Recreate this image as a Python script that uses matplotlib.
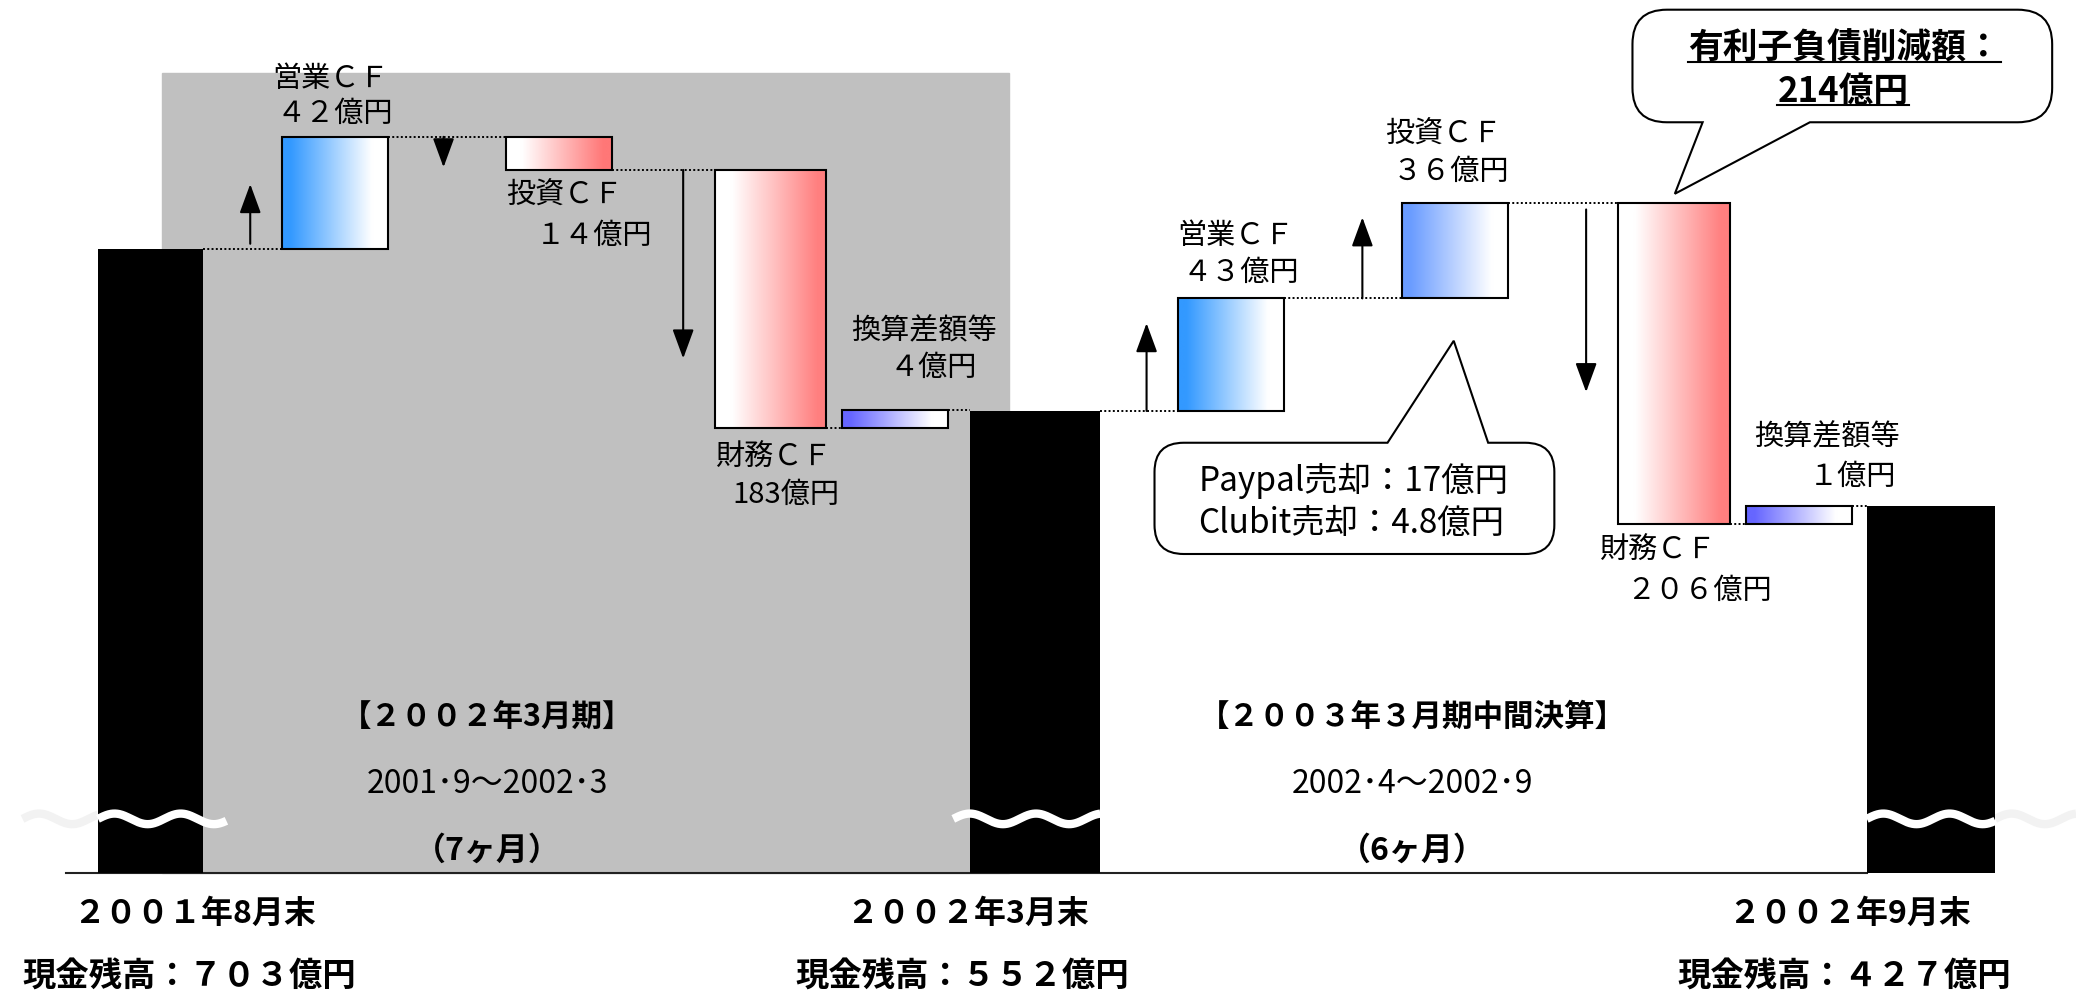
import numpy as np
import matplotlib
matplotlib.use("Agg")
import matplotlib.pyplot as plt
from matplotlib.patches import Rectangle, PathPatch
from matplotlib.path import Path
from matplotlib.colors import LinearSegmentedColormap

plt.rcParams['font.family'] = ['Noto Sans CJK JP', 'DejaVu Sans']

# ---- data (億円) ----
cash_dates = ['２００１年8月末', '２００２年3月末', '２００２年9月末']
cash_values = [703, 552, 427]
flow_names = ['営業ＣＦ', '投資ＣＦ', '財務ＣＦ', '換算差額等',
              '営業ＣＦ', '投資ＣＦ', '財務ＣＦ', '換算差額等']
flow_values = [42, -14, -183, 4, 43, 36, -206, 1]
flow_texts = ['４２億円', '１４億円', '183億円', '４億円',
              '４３億円', '３６億円', '２０６億円', '１億円']
# the chart is schematic (broken axis): drawn heights
drawn_cash = [471, 349, 277]
drawn_flow = [85, -25, -195, 14, 85, 72, -242, 13]
period_titles = ['【２００２年3月期】', '【２００３年３月期中間決算】']
period_ranges = ['2001･9～2002･3', '2002･4～2002･9']
period_months = ['（7ヶ月）', '（6ヶ月）']
callout_sales = ['Paypal売却：17億円', 'Clubit売却：4.8億円']
debt_cut_title = '有利子負債削減額：'
debt_cut_value = '214億円'

# ---- layout ----
cash_left = [74, 733, 1410]
cash_width = [79, 98, 97]
flow_left = [213, 382, 540, 636, 890, 1059, 1222, 1319]
flow_width = [80, 80, 84, 80, 80, 80, 85, 80]
flow_color = ['#3399ff', '#ff7777', '#ff7f7f', '#6666ff',
              '#3399ff', '#6a9cff', '#ff7f7f', '#6666ff']
arrow_x = [189, 335, 516, 866, 1029, 1198]
arrow_frac = [(0.05, 0.58), (0.0, 0.92), (0.0, 0.73), (0.0, 0.78), (0.0, 0.85), (0.02, 0.59)]
name_pos = [(206, 600), (382, 512), (540, 314), (643, 410),
            (889, 482), (1046, 558), (1208, 244), (1325, 330)]
value_pos = [(209, 574), (405, 482), (553, 286), (672, 382),
             (893, 454), (1052, 530), (1228, 214), (1366, 300)]
label_size = 21


def grad_bar(ax, x, y, w, h, color, positive):
    if positive:
        cmap = LinearSegmentedColormap.from_list('g', [(0, color), (0.08, color), (0.85, 'white'), (1, 'white')])
    else:
        cmap = LinearSegmentedColormap.from_list('g', [(0, 'white'), (0.15, 'white'), (0.92, color), (1, color)])
    g = np.linspace(0, 1, 256)[None, :]
    ax.imshow(g, cmap=cmap, extent=(x, x + w, y, y + h), aspect='auto',
              interpolation='bicubic', zorder=2)
    ax.add_patch(Rectangle((x, y), w, h, fill=False, ec='black', lw=1.5, zorder=3))


def callout(ax, x0, y0, x1, y1, r, tip, base, side):
    verts, codes = [], []

    def ln(p):
        verts.append(p)
        codes.append(Path.LINETO)

    def cv(c, p):
        verts.extend([c, p])
        codes.extend([Path.CURVE3, Path.CURVE3])

    verts.append((x0 + r, y1))
    codes.append(Path.MOVETO)
    if side == 'top':
        ln((base[0], y1)); ln(tip); ln((base[1], y1))
    ln((x1 - r, y1)); cv((x1, y1), (x1, y1 - r))
    ln((x1, y0 + r)); cv((x1, y0), (x1 - r, y0))
    if side == 'bottom':
        ln((base[1], y0)); ln(tip); ln((base[0], y0))
    ln((x0 + r, y0)); cv((x0, y0), (x0, y0 + r))
    ln((x0, y1 - r)); cv((x0, y1), (x0 + r, y1))
    verts.append((x0 + r, y1))
    codes.append(Path.CLOSEPOLY)
    ax.add_patch(PathPatch(Path(verts, codes), fc='white', ec='black', lw=1.5, zorder=6))


def wave(ax, xa, xb, y, color='white', z=5):
    xs = np.linspace(xa, xb, 300)
    ax.plot(xs, y + 4 * np.sin((xs - xa) / 50 * 2 * np.pi), color=color, lw=6,
            zorder=z, solid_capstyle='butt')


fig = plt.figure(figsize=(20.76, 9.959), dpi=100)
ax = fig.add_axes([0, 0, 1, 1])

# shaded first period
ax.add_patch(Rectangle((122, 0), 640, 604, color='#c0c0c0', zorder=0))
ax.plot([50, 1410], [0, 0], color='#222222', lw=1.5, zorder=1)

# cash balance bars
for i in range(3):
    ax.bar(cash_left[i], drawn_cash[i], width=cash_width[i], align='edge',
           color='black', zorder=4)

# flow bars (waterfall)
seq = []  # (left, right, end level)
seq.append((cash_left[0], cash_left[0] + cash_width[0], drawn_cash[0]))
level = drawn_cash[0]
arrows = []
for i, d in enumerate(drawn_flow):
    if i == 4:
        level = drawn_cash[1]
        seq.append((cash_left[1], cash_left[1] + cash_width[1], drawn_cash[1]))
    bottom = level if d > 0 else level + d
    grad_bar(ax, flow_left[i], bottom, flow_width[i], abs(d), flow_color[i], flow_values[i] > 0)
    arrows.append((level, d))
    level += d
    seq.append((flow_left[i], flow_left[i] + flow_width[i], level))
seq.append((cash_left[2], cash_left[2] + cash_width[2], drawn_cash[2]))

# dotted connectors
for a, b in zip(seq[:-1], seq[1:]):
    ax.plot([a[1], b[0]], [a[2], a[2]], color='black', lw=1.4, ls=(0, (1, 1.2)), zorder=1)

# arrows (main steps, FX steps have none)
arrow_steps = [arrows[k] for k in (0, 1, 2, 4, 5, 6)]
for xa, (lv, d), (f0, f1) in zip(arrow_x, arrow_steps, arrow_frac):
    ax.annotate('', xy=(xa, lv + f1 * d), xytext=(xa, lv + f0 * d),
                arrowprops=dict(arrowstyle='-|>,head_length=0.6,head_width=0.22',
                                mutation_scale=30, color='black', lw=1.5,
                                shrinkA=0, shrinkB=0), zorder=4)

# labels
for i in range(8):
    ax.text(name_pos[i][0], name_pos[i][1], flow_names[i], fontsize=label_size,
            ha='left', va='center', zorder=7)
    ax.text(value_pos[i][0], value_pos[i][1], flow_texts[i], fontsize=label_size,
            ha='left', va='center', zorder=7)

# axis break waves
wave(ax, 17, 74, 41, color='#f2f2f2', z=1)
wave(ax, 74, 171, 41)
wave(ax, 720, 831, 41)
wave(ax, 1410, 1507, 41)
wave(ax, 1507, 1568, 41, color='#f2f2f2', z=1)

# period texts
for cx, t, r, m in zip([368, 1067], period_titles, period_ranges, period_months):
    ax.text(cx, 119, t, fontsize=22, fontweight='bold', ha='center', va='center')
    ax.text(cx, 68, r, fontsize=23, ha='center', va='center')
    ax.text(cx, 18, m, fontsize=23, fontweight='bold', ha='center', va='center')

# bottom cash labels
for cx, d, v in zip([147, 731, 1397], cash_dates, cash_values):
    ax.text(cx, -30, d, fontsize=23, fontweight='bold', ha='center', va='center')
    digits = ''.join(chr(ord(c) + 0xFEE0) for c in str(v))
    ax.text(cx - 4, -78, '現金残高：' + digits + '億円', fontsize=24,
            fontweight='bold', ha='center', va='center')

# callouts
callout(ax, 872, 241, 1174, 325, 22, (1098, 402), (1048, 1124), 'top')
ax.text(905, 297, callout_sales[0], fontsize=24, ha='left', va='center', zorder=7)
ax.text(905, 265, callout_sales[1], fontsize=24, ha='left', va='center', zorder=7)

callout(ax, 1233, 567, 1550, 652, 26, (1265, 513), (1286, 1367), 'bottom')
t1 = ax.text(1393, 624, debt_cut_title, fontsize=25, fontweight='bold',
             ha='center', va='center', zorder=7)
t2 = ax.text(1392, 591, debt_cut_value, fontsize=25, fontweight='bold',
             ha='center', va='center', zorder=7)

ax.set_xlim(0, 1568)
ax.set_ylim(-92, 660)
ax.axis('off')

fig.canvas.draw()
inv = ax.transData.inverted()
for t in (t1, t2):
    bb = t.get_window_extent().transformed(inv)
    ax.plot([bb.x0, bb.x1], [bb.y0 + 2, bb.y0 + 2], color='black', lw=1.5, zorder=7)

fig.savefig('out.png', dpi=100)
